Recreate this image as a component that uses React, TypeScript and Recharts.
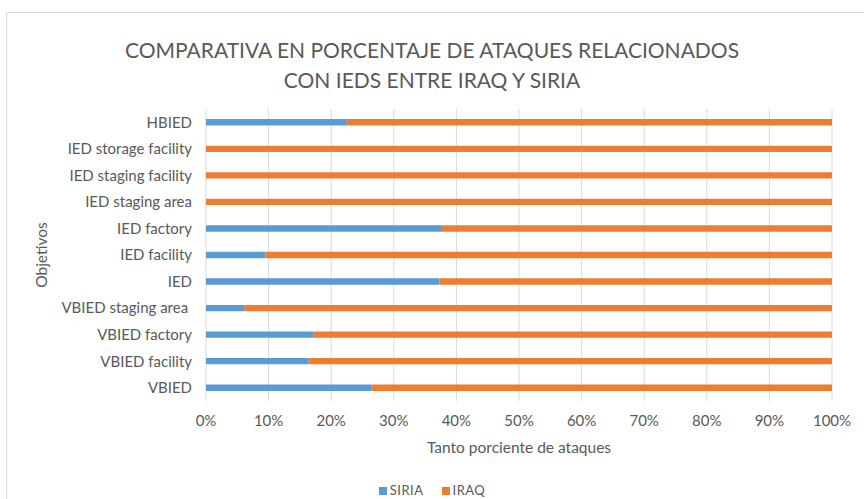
import React from "react";
import { BarChart, Bar, XAxis, YAxis, CartesianGrid } from "recharts";

const categories = [
  "HBIED",
  "IED storage facility",
  "IED staging facility",
  "IED staging area",
  "IED factory",
  "IED facility",
  "IED",
  "VBIED staging area\u00A0",
  "VBIED factory",
  "VBIED facility",
  "VBIED",
];
const siria = [22.5, 0, 0, 0, 37.7, 9.5, 37.3, 6.1, 17.1, 16.4, 26.4];
const iraq = [77.5, 100, 100, 100, 62.3, 90.5, 62.7, 93.9, 82.9, 83.6, 73.6];
const xTicks = [0, 0.1, 0.2, 0.3, 0.4, 0.5, 0.6, 0.7, 0.8, 0.9, 1];

const titleLines = [
  "COMPARATIVA EN PORCENTAJE DE ATAQUES RELACIONADOS",
  "CON IEDS ENTRE IRAQ Y SIRIA",
];
const xTitle = "Tanto porciente de ataques";
const yTitle = "Objetivos";
const seriesNames = ["SIRIA", "IRAQ"];

const BLUE = "#5B9BD5";
const ORANGE = "#ED7D31";
const TEXT = "#595959";
const FONT = "Lato, 'Open Sans', sans-serif";

const data = categories.map((c, i) => ({ name: c, SIRIA: siria[i], IRAQ: iraq[i] }));

export default function App() {
  return (
    <div
      style={{
        position: "absolute",
        left: 0,
        top: 0,
        width: 864,
        height: 499,
        overflow: "hidden",
        background: "#fff",
        fontFamily: FONT,
      }}
    >
      <div
        style={{
          position: "absolute",
          left: 6,
          top: 12,
          width: 900,
          height: 600,
          border: "1px solid #d9d9d9",
          boxSizing: "border-box",
        }}
      />
      <div
        style={{
          position: "absolute",
          left: 0,
          top: 35,
          width: 864,
          textAlign: "center",
          color: TEXT,
          fontSize: 21,
          lineHeight: "30px",
        }}
      >
        {titleLines.map((t) => (
          <div key={t}>{t}</div>
        ))}
      </div>
      <div style={{ position: "absolute", left: 0, top: 0 }}>
        <BarChart
          width={864}
          height={499}
          data={data}
          layout="vertical"
          stackOffset="expand"
          barCategoryGap="62%"
          margin={{ top: 109, right: 32, bottom: 68, left: 0 }}
        >
          <CartesianGrid horizontal={false} stroke="#d9d9d9" />
          <XAxis
            type="number"
            domain={[0, 1]}
            ticks={xTicks}
            tickFormatter={(v: number) => `${Math.round(v * 100)}%`}
            axisLine={false}
            tickLine={false}
            tickMargin={8}
            height={30}
            tick={{ fill: TEXT, fontSize: 15, fontFamily: FONT }}
            label={{
              content: (p: any) => {
                const vb = p.viewBox || {};
                const cx = (vb.x || 0) + (vb.width || 0) / 2;
                return (
                  <text
                    x={cx}
                    y={453}
                    textAnchor="middle"
                    fill={TEXT}
                    fontSize={15.5}
                    fontFamily={FONT}
                  >
                    {xTitle}
                  </text>
                );
              },
            }}
          />
          <YAxis
            type="category"
            dataKey="name"
            width={206}
            axisLine={false}
            tickLine={false}
            tickMargin={8}
            interval={0}
            tick={{ fill: TEXT, fontSize: 15, fontFamily: FONT }}
            label={{
              content: (p: any) => {
                const vb = p.viewBox || {};
                const cy = (vb.y || 0) + (vb.height || 0) / 2;
                return (
                  <text
                    x={47}
                    y={cy}
                    transform={`rotate(-90 47 ${cy})`}
                    textAnchor="middle"
                    fill={TEXT}
                    fontSize={15.5}
                    fontFamily={FONT}
                  >
                    {yTitle}
                  </text>
                );
              },
            }}
          />
          <Bar dataKey="SIRIA" stackId="a" fill={BLUE} isAnimationActive={false} />
          <Bar dataKey="IRAQ" stackId="a" fill={ORANGE} isAnimationActive={false} />
        </BarChart>
      </div>
      <div
        style={{
          position: "absolute",
          left: 0,
          top: 483,
          width: 864,
          display: "flex",
          justifyContent: "center",
          gap: 18,
          color: TEXT,
          fontSize: 13,
          lineHeight: "15px",
          letterSpacing: 0.5,
        }}
      >
        {seriesNames.map((s, i) => (
          <div key={s} style={{ display: "flex", alignItems: "center" }}>
            <span
              style={{
                display: "inline-block",
                width: 8,
                height: 8,
                background: i === 0 ? BLUE : ORANGE,
                marginRight: 3,
              }}
            />
            {s}
          </div>
        ))}
      </div>
    </div>
  );
}
